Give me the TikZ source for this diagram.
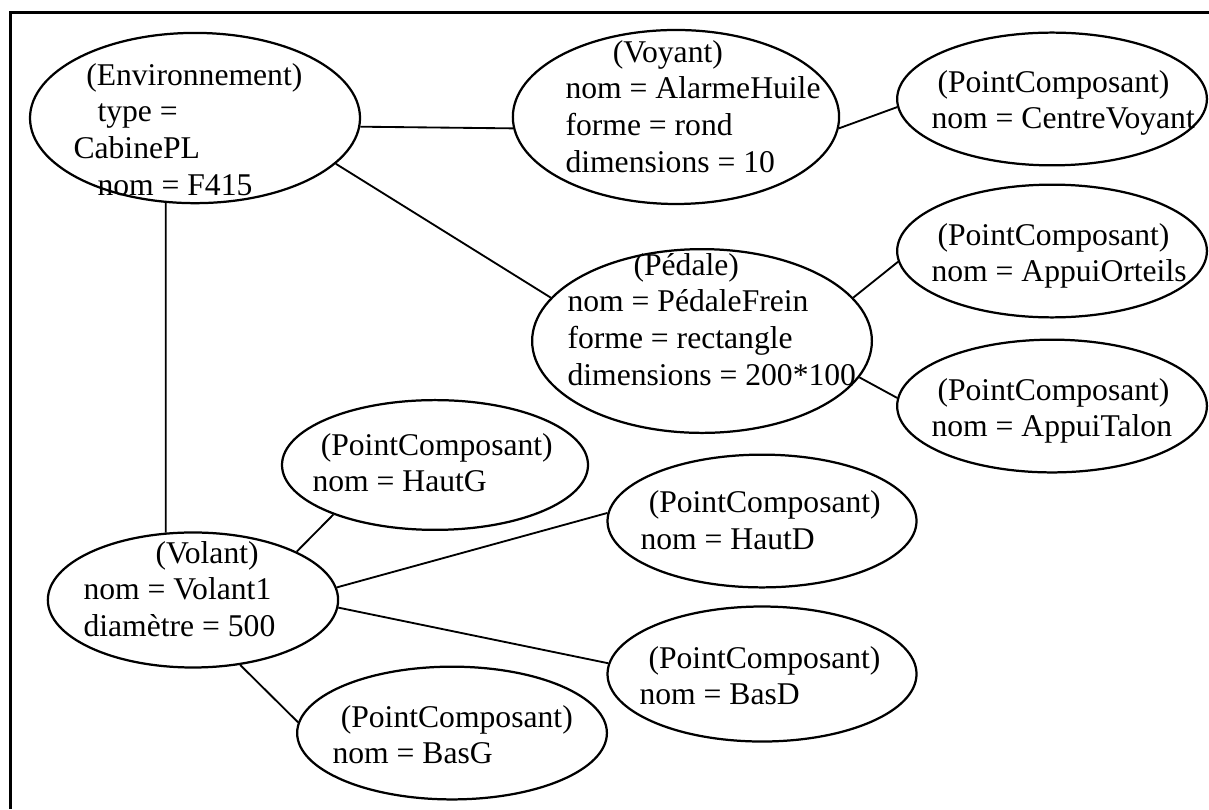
\documentclass[tikz,border=0pt]{standalone}
\usepackage{fontspec}
\setmainfont{Liberation Serif}
\usetikzlibrary{shapes.geometric}

\newcommand{\champs}[1]{\begin{tabular}[t]{@{}l@{}}#1\end{tabular}}

\tikzset{
  entite/.style={draw, ellipse, line width=0.85pt, inner sep=0pt},
  point/.style={entite, minimum width=4.12cm, minimum height=1.77cm},
  attr/.style={anchor=base west, inner sep=0pt, font=\fontsize{12}{14}\selectfont},
  lien/.style={line width=0.7pt}
}

\begin{document}
\begin{tikzpicture}
  \useasboundingbox (0,0) rectangle (16.12,10.787);
  % frame (top and left sides only)
  \draw[line width=1.1pt] (16.12,10.62) -- (0.14,10.62) -- (0.14,0);
  % entities
  \node[entite, minimum width=4.40cm, minimum height=2.27cm] (env) at (2.60,9.213) {};
  \node[entite, minimum width=4.35cm, minimum height=2.32cm] (voy) at (9.013,9.227) {};
  \node[entite, minimum width=4.53cm, minimum height=2.45cm] (ped) at (9.36,6.24) {};
  \node[entite, minimum width=3.87cm, minimum height=1.80cm] (vol) at (2.573,2.787) {};
  \node[point, minimum width=4.13cm] (cvoy) at (14.027,9.467) {};
  \node[point, minimum width=4.13cm] (orteils) at (14.027,7.44) {};
  \node[point, minimum width=4.13cm] (talon) at (14.027,5.373) {};
  \node[point, minimum width=4.08cm, minimum height=1.73cm] (hautg) at (5.80,4.587) {};
  \node[point] (hautd) at (10.16,3.84) {};
  \node[point, minimum height=1.80cm] (basd) at (10.16,1.80) {};
  \node[point, minimum width=4.13cm] (basg) at (6.027,1.013) {};
  % texts
  \node[attr] (envtxt) at (0.973,9.653) {\champs{\hspace*{0.17cm}(Environnement)\\ \hspace*{0.32cm}type =\\ CabinePL\\ \hspace*{0.32cm}nom = F415}};
  \node[attr] (voytxt) at (7.533,9.96) {\champs{\hspace*{0.63cm}(Voyant)\\ nom = AlarmeHuile\\ forme = rond\\ dimensions = 10}};
  \node[attr] (pedtxt) at (7.56,7.12) {\champs{\hspace*{0.88cm}(Pédale)\\ nom = PédaleFrein\\ forme = rectangle\\ dimensions = 200*100}};
  \node[attr] (voltxt) at (1.107,3.28) {\champs{\hspace*{0.96cm}(Volant)\\ nom = Volant1\\ diamètre = 500}};
  \node[attr] (cvoytxt) at (12.413,9.56) {\champs{\hspace*{0.08cm}(PointComposant)\\ nom = CentreVoyant}};
  \node[attr] (orteilstxt) at (12.413,7.52) {\champs{\hspace*{0.08cm}(PointComposant)\\ nom = AppuiOrteils}};
  \node[attr] (talontxt) at (12.413,5.453) {\champs{\hspace*{0.08cm}(PointComposant)\\ nom = AppuiTalon}};
  \node[attr] (hautgtxt) at (4.16,4.72) {\champs{\hspace*{0.11cm}(PointComposant)\\ nom = HautG}};
  \node[attr] (hautdtxt) at (8.533,3.947) {\champs{\hspace*{0.11cm}(PointComposant)\\ nom = HautD}};
  \node[attr] (basdtxt) at (8.52,1.88) {\champs{\hspace*{0.12cm}(PointComposant)\\ nom = BasD}};
  \node[attr] (basgtxt) at (4.427,1.093) {\champs{\hspace*{0.11cm}(PointComposant)\\ nom = BasG}};
  % links
  \draw[lien] (env.251) -- (vol.112);
  \draw[lien] (env.357) -- (voy.184);
  \draw[lien] (env.342) -- (ped.164);
  \draw[lien] (voy.356) -- (cvoy.183);
  \draw[lien] (ped.16) -- (orteils.184);
  \draw[lien] (ped.347) -- (talon.177);
  \draw[lien] (vol.25) -- (hautg.206);
  \draw[lien] (vol.5) -- (hautd.177);
  \draw[lien] (vol.357) -- (basd.176);
  \draw[lien] (vol.306) -- (basg.176);
\end{tikzpicture}
\end{document}
